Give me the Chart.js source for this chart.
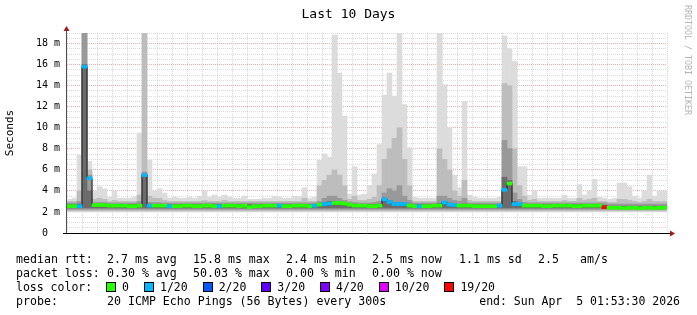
<!DOCTYPE html>
<html>
<head>
<meta charset="utf-8">
<script src="https://cdn.jsdelivr.net/npm/chart.js@4.4.1/dist/chart.umd.min.js"></script>
<style>
  html, body { margin: 0; padding: 0; background: #fff; }
  #wrap { position: relative; width: 697px; height: 315px; overflow: hidden; background: #fff; }
  #c { position: absolute; left: 0; top: 0; }
  .txt { position: absolute; font-family: 'DejaVu Sans Mono', monospace; color: #000; white-space: pre; font-size: 11.6px; line-height: 14px; }
  #title { left: 0; width: 697px; top: 6px; text-align: center; font-size: 13px; line-height: 16px; }
  #mark { left: 683px; top: 5px; font-size: 8.3px; line-height: 9px; color: #b4b4b4; writing-mode: vertical-rl; }
  #end { right: 17px; top: 294px; font-size: 11.5px; }
  .box { display: inline-block; width: 8px; height: 8px; border: 1px solid #000; vertical-align: -1px; margin-right: 6px; }
  .item { margin-right: 15px; }
</style>
</head>
<body>
<div id="wrap">
  <canvas id="c" width="697" height="315"></canvas>
  <div id="title" class="txt">Last 10 Days</div>
  <div id="mark" class="txt">RRDTOOL / TOBI OETIKER</div>
  <div id="lossline" class="txt" style="left:16px; top:280px; font-size:11.5px">loss color:  </div>
  <div id="end" class="txt">end: Sun Apr  5 01:53:30 2026</div>
</div>
<script>
// ---- data (hours after Mar 26 00:00; each bucket covers 2 hours) ----
const startHour = 2;
const stepHours = 2;
const dayLabels = ['26','27','28','29','30','31','01','02','03','04'];

// top of light smoke (all pings), ms
const smokeHigh = [
  3.2,3.3,7.4,19.5,6.8,4.0,4.4,4.2,3.4,4.0,
  3.3,3.3,3.3,3.4,9.5,19.0,6.9,4.0,4.2,3.8,
  3.3,3.4,3.3,3.3,3.4,3.3,3.5,4.0,3.4,3.6,
  3.4,3.6,3.4,3.3,3.3,3.5,3.2,3.2,3.2,3.3,
  3.3,3.5,3.4,3.3,3.3,3.5,3.5,4.3,3.3,3.4,
  6.9,7.5,7.2,18.8,15.2,11.1,3.7,6.3,3.6,3.7,
  4.5,5.6,8.4,13.1,15.2,13.0,19.0,12.2,8.1,3.4,
  3.3,3.3,3.3,3.3,19.0,14.1,10.0,5.5,4.3,12.5,
  3.6,3.4,3.3,3.3,3.3,3.3,3.4,18.7,17.5,16.3,
  6.3,6.3,3.6,4.0,3.3,3.3,3.3,3.3,3.3,3.6,
  3.3,3.3,4.6,3.6,4.0,5.1,3.4,3.3,3.2,3.3,
  4.75,4.75,4.4,3.5,3.3,4.0,5.5,3.5,4.0,4.0
];
// top of medium smoke
const smokeMid = [
  3.0,3.0,4.0,19.5,6.0,3.2,3.3,3.2,3.0,3.1,
  3.0,3.0,3.0,3.0,3.6,19.0,3.5,3.3,3.3,3.1,
  3.0,3.0,3.0,3.0,3.0,3.0,3.0,3.1,3.0,3.0,
  3.0,3.1,3.0,3.0,3.0,3.0,3.0,3.0,3.0,3.0,
  3.0,3.0,3.0,3.0,3.0,3.0,3.0,3.3,3.0,3.0,
  4.5,5.0,5.5,6.0,5.5,4.5,3.2,3.5,3.1,3.1,
  3.2,3.4,4.5,7.0,8.0,9.0,10.0,7.0,4.5,3.0,
  3.0,3.0,3.0,3.0,8.0,7.0,6.0,4.0,3.5,5.0,
  3.1,3.0,3.0,3.0,3.0,3.0,3.0,14.2,14.0,8.0,
  4.5,3.5,3.1,3.2,3.0,3.0,3.0,3.0,3.0,3.1,
  3.0,3.0,3.3,3.1,3.2,3.3,3.0,3.0,2.9,2.9,
  3.2,3.2,3.1,3.0,2.9,3.0,3.2,3.0,3.0,3.0
];
// top of dark smoke
const smokeDark = [
  2.85,2.85,3.0,19.5,5.5,2.9,2.9,2.9,2.85,2.85,
  2.85,2.85,2.85,2.85,3.0,5.8,2.9,2.9,2.9,2.85,
  2.85,2.85,2.85,2.85,2.85,2.85,2.85,2.85,2.85,2.85,
  2.85,2.85,2.85,2.85,2.85,2.85,2.85,2.85,2.85,2.85,
  2.85,2.85,2.85,2.85,2.85,2.85,2.85,2.85,2.85,2.85,
  3.0,3.3,3.5,3.5,3.3,3.1,2.95,2.9,2.85,2.85,
  2.85,2.9,3.0,3.8,4.2,4.0,4.5,3.5,3.1,2.85,
  2.85,2.85,2.85,2.85,3.5,3.5,3.3,3.1,3.0,3.3,
  2.85,2.85,2.85,2.85,2.85,2.85,2.85,8.8,8.0,3.8,
  3.2,2.9,2.85,2.85,2.85,2.85,2.85,2.85,2.85,2.85,
  2.85,2.85,2.85,2.85,2.85,2.85,2.85,2.85,2.75,2.75,
  2.75,2.75,2.75,2.75,2.75,2.75,2.75,2.75,2.75,2.75
];
// top of darkest smoke core
const smokeCore = [
  2.7,2.7,2.75,16.0,4.0,2.7,2.7,2.7,2.7,2.7,
  2.7,2.7,2.7,2.7,2.75,5.6,2.75,2.7,2.7,2.7,
  2.7,2.7,2.7,2.7,2.7,2.7,2.7,2.7,2.7,2.7,
  2.7,2.7,2.7,2.7,2.7,2.7,2.7,2.7,2.7,2.7,
  2.7,2.7,2.7,2.7,2.7,2.7,2.7,2.7,2.7,2.7,
  2.8,2.9,3.0,3.0,2.9,2.85,2.75,2.7,2.7,2.7,
  2.7,2.7,2.75,3.3,3.1,2.9,2.9,2.85,2.75,2.7,
  2.7,2.7,2.7,2.7,2.8,3.0,2.85,2.75,2.7,2.75,
  2.7,2.7,2.7,2.7,2.7,2.7,2.7,5.3,5.0,3.0,
  2.85,2.7,2.7,2.7,2.7,2.7,2.7,2.7,2.7,2.7,
  2.7,2.7,2.7,2.7,2.7,2.7,2.7,2.6,2.55,2.55,
  2.55,2.55,2.55,2.55,2.55,2.55,2.55,2.55,2.55,2.55
];
// bottoms of the smoke layers: light, mid, dark, core
const smokeFloor = [2.0, 2.1, 2.25, 2.38];
// median rtt, ms
const medianRtt = [
  2.55,2.55,2.55,15.8,5.2,2.65,2.65,2.65,2.6,2.6,
  2.6,2.6,2.55,2.55,2.6,5.5,2.6,2.6,2.6,2.6,
  2.55,2.55,2.55,2.6,2.6,2.55,2.55,2.6,2.6,2.55,
  2.55,2.6,2.6,2.6,2.55,2.6,2.45,2.55,2.55,2.6,
  2.6,2.6,2.6,2.55,2.55,2.6,2.6,2.6,2.55,2.6,
  2.7,2.75,2.8,2.85,2.85,2.8,2.7,2.6,2.6,2.6,
  2.55,2.55,2.6,3.2,2.95,2.75,2.75,2.75,2.6,2.55,
  2.55,2.55,2.55,2.6,2.6,2.9,2.7,2.65,2.6,2.6,
  2.6,2.55,2.55,2.55,2.55,2.55,2.6,4.1,4.7,2.75,
  2.75,2.6,2.6,2.6,2.6,2.55,2.55,2.6,2.6,2.6,
  2.6,2.55,2.55,2.6,2.6,2.6,2.6,2.45,2.4,2.4,
  2.4,2.35,2.4,2.4,2.35,2.4,2.4,2.35,2.4,2.4
];
// loss class per bucket (index into lossLabels)
const lossIndex = [
  0,0,1,1,1,0,0,0,0,0,
  0,0,0,0,0,1,1,0,0,0,
  1,0,0,0,0,0,0,0,0,0,
  1,0,0,0,0,0,0,0,0,0,
  0,0,1,0,0,0,0,0,0,1,
  0,1,1,0,0,0,0,0,0,0,
  0,0,0,1,1,1,1,1,0,0,
  1,0,0,0,0,1,1,1,0,0,
  0,0,0,0,0,0,1,1,0,1,
  1,0,0,0,0,0,0,0,0,0,
  0,0,0,0,0,0,0,6,0,0,
  0,0,0,0,0,0,0,0,0,0
];
const lossLabels = ['0','1/20','2/20','3/20','4/20','10/20','19/20'];
const lossColors = ['#26ff00','#00b8ff','#0059ff','#5e00ff','#7e00ff','#dd00ff','#ff0000'];

// legend text rows (label + statistics)
const rttLegend = ['median rtt:', '2.7 ms avg', '15.8 ms max', '2.4 ms min', '2.5 ms now', '1.1 ms sd', '2.5', 'am/s'];
const lossLegend = ['packet loss:', '0.30 % avg', '50.03 % max', '0.00 % min', '0.00 % now'];
const probeLegend = ['probe:', '20 ICMP Echo Pings (56 Bytes) every 300s'];

// ---- legend layout ----
const wrap = document.getElementById('wrap');
const colX = [16, 107, 193, 286, 372, 459, 538, 580];
function addRow(items, top) {
  items.forEach((t, i) => {
    const d = document.createElement('div');
    d.className = 'txt';
    d.style.left = colX[i] + 'px';
    d.style.top = top + 'px';
    d.textContent = t;
    wrap.appendChild(d);
  });
}
addRow(rttLegend, 252);
addRow(lossLegend, 266);
addRow(probeLegend, 294);

const lossLine = document.getElementById('lossline');
lossLabels.forEach((lab, i) => {
  const b = document.createElement('span');
  b.className = 'box';
  b.style.background = lossColors[i];
  lossLine.appendChild(b);
  const t = document.createElement('span');
  t.className = 'item';
  t.textContent = lab;
  lossLine.appendChild(t);
});

// ---- chart ----
const centers = smokeHigh.map((_, i) => startHour + stepHours * (i + 0.5));
const floating = (tops, floor) => tops.map((t, i) => ({ x: centers[i], y: [floor, t] }));
const medHalf = 0.14;

const barCommon = { type: 'bar', barPercentage: 1, categoryPercentage: 1, grouped: false, borderWidth: 0 };

const axisArrows = {
  id: 'axisArrows',
  afterDraw(chart) {
    const { ctx, chartArea: a } = chart;
    ctx.save();
    ctx.lineWidth = 1;
    ctx.strokeStyle = '#505050';
    ctx.beginPath();
    ctx.moveTo(a.left - 0.5, a.bottom + 1);
    ctx.lineTo(a.left - 0.5, a.top - 2);
    ctx.stroke();
    ctx.strokeStyle = '#000';
    ctx.beginPath();
    ctx.moveTo(a.left - 4, a.bottom + 0.5);
    ctx.lineTo(a.right + 3, a.bottom + 0.5);
    ctx.stroke();
    ctx.fillStyle = '#a01818';
    ctx.beginPath();
    ctx.moveTo(a.left - 0.5, a.top - 7);
    ctx.lineTo(a.left - 3.5, a.top - 2);
    ctx.lineTo(a.left + 2.5, a.top - 2);
    ctx.closePath();
    ctx.fill();
    ctx.beginPath();
    ctx.moveTo(a.right + 8, a.bottom + 0.5);
    ctx.lineTo(a.right + 3, a.bottom - 2.5);
    ctx.lineTo(a.right + 3, a.bottom + 3.5);
    ctx.closePath();
    ctx.fill();
    ctx.restore();
  }
};

Chart.defaults.font.family = "'DejaVu Sans Mono', monospace";

const majorGrid = 'rgba(215,95,95,0.5)';
const minorGrid = 'rgba(140,140,140,0.32)';

new Chart(document.getElementById('c'), {
  type: 'bar',
  data: {
    datasets: [
      Object.assign({}, barCommon, { order: 0, data: medianRtt.map((m, i) => ({ x: centers[i], y: [m - medHalf, m + medHalf] })), backgroundColor: lossIndex.map(k => lossColors[k]) }),
      { type: 'line', order: 1, data: medianRtt.map((m, i) => ({ x: centers[i], y: m })), stepped: 'middle', borderColor: '#202020', borderWidth: 1, pointRadius: 0, fill: false },
      Object.assign({}, barCommon, { order: 2, data: floating(smokeCore, smokeFloor[3]), backgroundColor: '#6c6c6c' }),
      Object.assign({}, barCommon, { order: 3, data: floating(smokeDark, smokeFloor[2]), backgroundColor: '#999999' }),
      Object.assign({}, barCommon, { order: 4, data: floating(smokeMid, smokeFloor[1]), backgroundColor: '#bdbdbd' }),
      Object.assign({}, barCommon, { order: 5, data: floating(smokeHigh, smokeFloor[0]), backgroundColor: '#dcdcdc' })
    ]
  },
  options: {
    responsive: false,
    animation: false,
    devicePixelRatio: 1,
    events: [],
    layout: { padding: { left: 0, top: 33, right: 30, bottom: 62 } },
    plugins: { legend: { display: false }, tooltip: { enabled: false }, title: { display: false } },
    scales: {
      x: {
        type: 'linear', min: 2, max: 242, offset: false, z: 1,
        afterFit: s => { s.height = 20; },
        border: { display: false, dash: [1, 1] },
        grid: {
          offset: false, drawTicks: false, lineWidth: 1,
          color: c => (c.tick && c.tick.value % 24 === 0) ? majorGrid : minorGrid
        },
        ticks: {
          stepSize: 6, includeBounds: false, autoSkip: false, maxRotation: 0, padding: 4,
          color: '#000', font: { size: 10 },
          callback: v => (v % 24 === 12) ? dayLabels[(v - 12) / 24] : ''
        }
      },
      y: {
        min: 0, max: 19, z: 1,
        afterFit: s => { s.width = 67; },
        border: { display: false, dash: [1, 1] },
        grid: {
          drawTicks: false, lineWidth: 1,
          color: c => (c.tick && c.tick.value % 2 === 0) ? majorGrid : minorGrid
        },
        ticks: {
          stepSize: 0.5, autoSkip: false, padding: 7, color: '#000', font: { size: 10 },
          callback: v => (v % 2 !== 0) ? '' : (v === 0 ? '0  ' : v + ' m')
        },
        title: { display: true, text: 'Seconds', color: '#000', font: { size: 11 }, padding: { top: 4, bottom: 0 } }
      }
    }
  },
  plugins: [axisArrows]
});
</script>
</body>
</html>
